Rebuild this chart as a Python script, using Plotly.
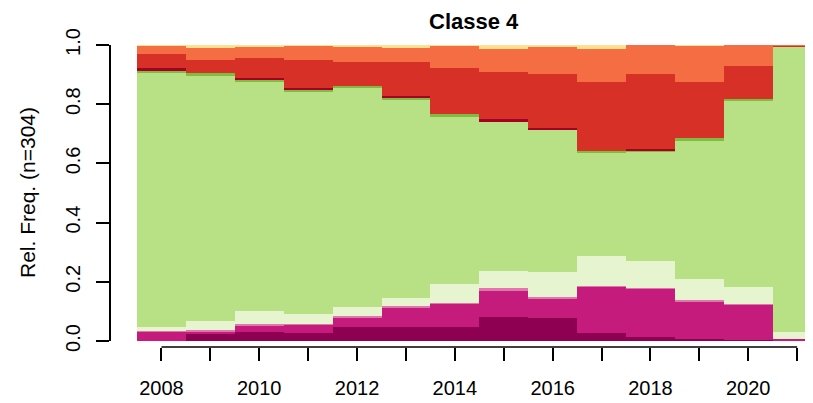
import plotly.graph_objects as go

years = list(range(2008, 2022))
tick_labels = [str(y) if y % 2 == 0 else "" for y in years]

# state proportions per year (bottom to top)
s_maroon = [0.000, 0.024, 0.029, 0.026, 0.048, 0.048, 0.048, 0.082, 0.077, 0.028, 0.015, 0.008, 0.003, 0.000]
s_magenta = [0.031, 0.007, 0.023, 0.029, 0.032, 0.062, 0.077, 0.090, 0.067, 0.155, 0.163, 0.127, 0.121, 0.008]
s_pink = [0.004, 0.006, 0.004, 0.002, 0.004, 0.007, 0.004, 0.006, 0.004, 0.002, 0.002, 0.005, 0.002, 0.000]
s_palegreen = [0.014, 0.032, 0.046, 0.034, 0.032, 0.027, 0.063, 0.060, 0.084, 0.101, 0.091, 0.069, 0.057, 0.021]
s_green = [0.856, 0.827, 0.772, 0.749, 0.738, 0.672, 0.564, 0.503, 0.481, 0.352, 0.369, 0.470, 0.631, 0.967]
s_midgreen = [0.008, 0.008, 0.008, 0.008, 0.009, 0.006, 0.010, 0.000, 0.000, 0.003, 0.002, 0.006, 0.002, 0.000]
s_darkred = [0.008, 0.000, 0.005, 0.006, 0.000, 0.007, 0.000, 0.008, 0.006, 0.000, 0.008, 0.000, 0.000, 0.000]
s_red = [0.049, 0.045, 0.068, 0.095, 0.081, 0.113, 0.155, 0.161, 0.182, 0.235, 0.252, 0.189, 0.113, 0.002]
s_orange = [0.027, 0.040, 0.037, 0.049, 0.050, 0.047, 0.076, 0.075, 0.093, 0.109, 0.098, 0.123, 0.071, 0.002]
s_yellow = [0.003, 0.011, 0.008, 0.002, 0.006, 0.011, 0.003, 0.015, 0.006, 0.015, 0.000, 0.003, 0.000, 0.000]

series = [
    ("s1", s_maroon, "#8E0152"),
    ("s2", s_magenta, "#C51B7D"),
    ("s3", s_pink, "#DE77AE"),
    ("s4", s_palegreen, "#E6F5D0"),
    ("s5", s_green, "#B8E186"),
    ("s6", s_midgreen, "#7FBC41"),
    ("s7", s_darkred, "#A50026"),
    ("s8", s_red, "#D73027"),
    ("s9", s_orange, "#F46D43"),
    ("s10", s_yellow, "#FEE090"),
]

W, H = 813, 403
OFF = 8  # page body margin
FONT = "Liberation Sans, Arial, sans-serif"

fig = go.Figure()
for name, vals, col in series:
    fig.add_trace(go.Bar(x=years, y=vals, name=name, width=1.0,
                         marker=dict(color=col, line=dict(width=0)),
                         showlegend=False, hoverinfo="skip"))

px_per_year = 48.9
x_left_px = 137 - OFF
x_axis_y_px = 347 - OFF
y_top_px = 45 - OFF
y_bot_px = 341 - OFF
fig.update_layout(
    width=W, height=H,
    margin=dict(l=0, r=0, t=0, b=0, autoexpand=False),
    paper_bgcolor="white", plot_bgcolor="white",
    barmode="stack", bargap=0,
    font=dict(family=FONT, size=20, color="black"),
    xaxis=dict(
        domain=[x_left_px / W, 1],
        range=[2007.5, 2007.5 + (W - x_left_px) / px_per_year],
        anchor="free", position=(H - x_axis_y_px) / H,
        automargin=False,
        showline=False, showgrid=False, zeroline=False,
        ticks="outside", ticklen=13, tickwidth=1.5, tickcolor="black",
        tickvals=years, ticktext=tick_labels,
        tickfont=dict(family=FONT, size=20, color="black"),
        ticklabelstandoff=10,
    ),
    yaxis=dict(
        domain=[(H - y_bot_px) / H, (H - y_top_px) / H],
        range=[0, 1],
        anchor="free", position=(110 - OFF) / W,
        automargin=False,
        showline=True, linecolor="black", linewidth=1.5,
        showgrid=False, zeroline=False,
        ticks="outside", ticklen=13, tickwidth=1.5, tickcolor="black",
        tickvals=[0, 0.2, 0.4, 0.6, 0.8, 1.0],
        ticktext=["0.0", "0.2", "0.4", "0.6", "0.8", "1.0"],
        tickangle=-90,
        tickfont=dict(family=FONT, size=20, color="black"),
        ticklabelstandoff=8,
    ),
    shapes=[dict(type="line", xref="x", yref="paper",
                 x0=years[0], x1=years[-1],
                 y0=(H - x_axis_y_px) / H, y1=(H - x_axis_y_px) / H,
                 line=dict(color="black", width=1.5))],
    annotations=[
        dict(text="<b>Classe 4</b>", xref="paper", yref="paper",
             x=(474 - OFF) / W, y=1, xanchor="center", yanchor="top",
             borderpad=0, showarrow=False,
             font=dict(family=FONT, size=22, color="black")),
        dict(text="Rel. Freq. (n=304)", xref="paper", yref="paper",
             x=(27 - OFF) / W, y=1 - (193 - OFF) / H, xanchor="center", yanchor="middle",
             textangle=-90, showarrow=False,
             font=dict(family=FONT, size=21, color="black")),
    ],
)

fig.write_html("out.html")
